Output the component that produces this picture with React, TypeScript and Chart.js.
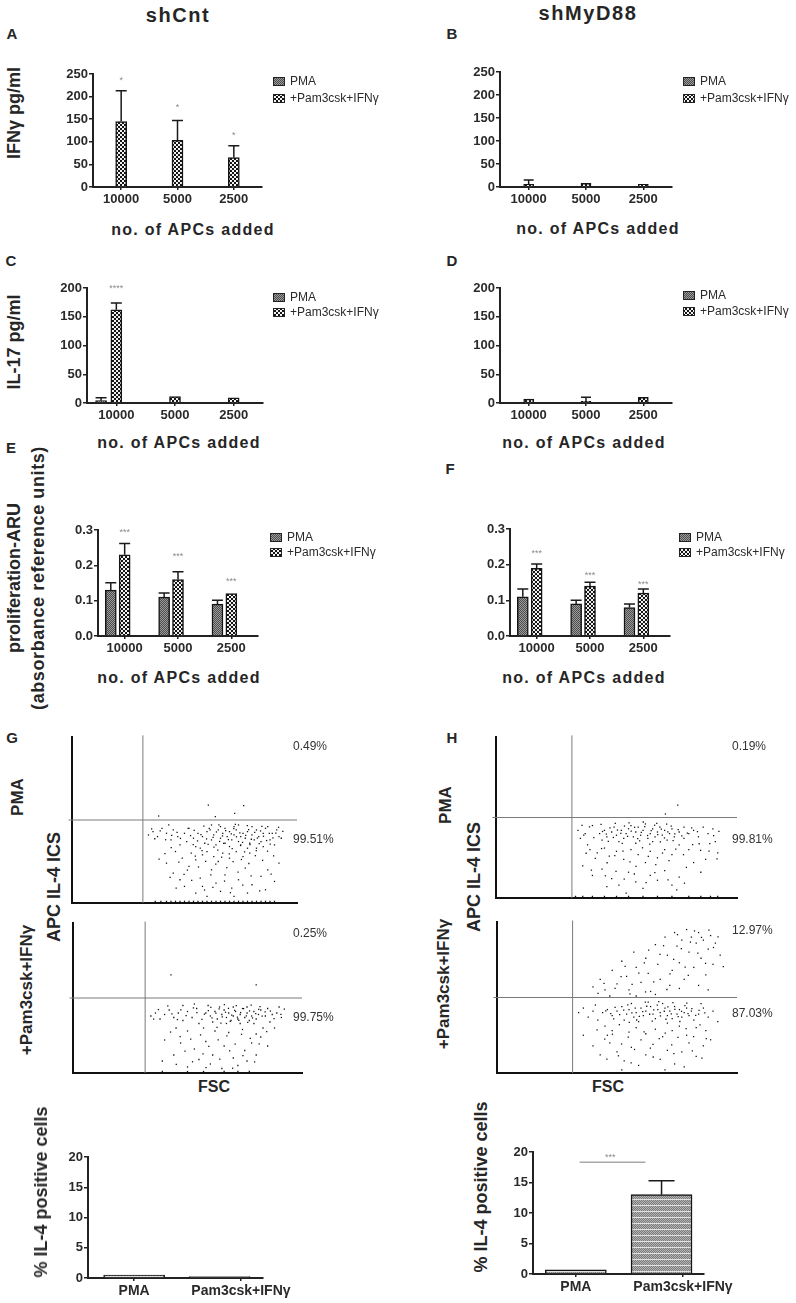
import React, { useEffect, useRef } from "react";
import { Chart, registerables } from "chart.js";
Chart.register(...registerables);

const FONT = "'Liberation Sans', Arial, Helvetica, sans-serif";
Chart.defaults.font.family = FONT;
Chart.defaults.color = "#2a2a2a";

// ---------------- DATA ----------------
const apcCategories = ["10000", "5000", "2500"];
const il4Categories = ["PMA", "Pam3csk+IFNγ"];
const seriesNames = ["PMA", "+Pam3csk+IFNγ"];

// A  IFNγ shCnt
const ifngShCntPMA = [0, 0, 0];
const ifngShCntPam = [145, 103, 65];
const ifngShCntPamErr = [213, 147, 91];
const ifngShCntStars = [241, 181, 119];
// B  IFNγ shMyD88
const ifngShMyD88PMA = [0, 0, 0];
const ifngShMyD88Pam = [6, 8, 6];
const ifngShMyD88PamErr = [15, 10, 8];
// C  IL-17 shCnt
const il17ShCntPMA = [4, 0, 0];
const il17ShCntPMAErr = [9, 0, 0];
const il17ShCntPam = [162, 11, 9];
const il17ShCntPamErr = [174, 11, 9];
const il17ShCntStars = [203];
// D  IL-17 shMyD88
const il17ShMyD88PMA = [0, 0, 0];
const il17ShMyD88Pam = [7, 3, 10];
const il17ShMyD88PamErr = [8, 10, 10];
// E  proliferation shCnt
const prolShCntPMA = [0.13, 0.11, 0.09];
const prolShCntPMAErr = [0.151, 0.122, 0.101];
const prolShCntPam = [0.23, 0.16, 0.12];
const prolShCntPamErr = [0.262, 0.182, 0.122];
const prolShCntStars = [0.298, 0.232, 0.161];
// F  proliferation shMyD88
const prolShMyD88PMA = [0.11, 0.09, 0.08];
const prolShMyD88PMAErr = [0.132, 0.1, 0.09];
const prolShMyD88Pam = [0.19, 0.14, 0.12];
const prolShMyD88PamErr = [0.202, 0.151, 0.132];
const prolShMyD88Stars = [0.238, 0.174, 0.149];
// G / H  % IL-4 positive cells
const il4ShCnt = [0.5, 0.25];
const il4ShCntErr = [0.55, 0.3];
const il4ShMyD88 = [0.7, 13];
const il4ShMyD88Err = [0.8, 15.3];
const il4ShMyD88Sig = [18.3];

// flow cytometry (FSC vs APC IL-4 ICS), axes 0-100
const gateFSC = 31.5;
const gateIL4 = 50;
const flowShCntPMA: [number, number][] = [
  [56,42],[58,40],[60,43],[62,38],[63,41],[65,44],[66,39],[67,42],[68,36],[69,40],[70,43],[71,38],[72,41],[73,44],[74,37],[75,40],[76,42],[77,39],[78,43],[79,36],[80,41],[81,38],[82,44],[83,40],[84,37],[85,42],[86,45],[64,35],[66,46],[70,34],[72,46],[75,35],[78,33],[68,45],[61,45],[59,36],[57,33],[62,47],[74,47],[80,46],
  [42,42],[44,38],[45,44],[47,40],[48,35],[50,42],[51,37],[52,45],[53,30],[54,39],[55,34],[46,31],[49,27],[55,26],[58,29],[60,31],[63,28],[65,25],[67,30],[70,27],[73,31],[76,28],[79,30],[82,33],[85,34],[88,38],[89,42],[91,44],[92,40],[87,46],[40,45],[38,40],[36,43],[34,41],[43,47],[93,39],[90,35],
  [45,18],[52,22],[57,15],[62,20],[64,12],[68,17],[71,9],[74,14],[77,21],[80,11],[84,16],[87,20],[92,24],[50,10],[55,6],[60,4],[66,7],[72,4],[78,6],[86,8],[90,13],[48,14],[42,24],[58,10],
  [37,1],[42,1],[46,1],[50,1],[54,1],[58,1],[62,1],[66,1],[70,1],[74,1],[78,1],[82,1],[86,1],[90,1],
  [60.6,59],[76.3,58.6],[72.3,54],[63.7,52],[38.5,52.4],
];
const flowShCntPMAExtra: [number, number][] = [
  [57.3,41.2],[59.8,38.6],[61.4,44.1],[62.7,39.5],[64.2,42.8],[65.6,37.1],[66.9,40.4],[68.3,43.6],[69.5,38.2],[70.8,41.7],[71.9,44.8],[73.1,39.9],[74.6,42.3],[75.8,36.5],[77.2,40.8],[78.5,44.2],[79.7,38.4],[81.2,42.6],[82.4,39.1],[83.8,43.4],[85.1,40.2],[86.5,37.6],[87.7,41.9],[60.5,35.3],[63.1,33.7],[67.4,35.9],[71.2,32.8],[74.9,34.6],[79.1,35.2],[83.2,35.8],[58.6,46.3],[65.3,47.1],[72.6,47.4],[77.9,46.6],[84.4,46.1],[52.7,40.6],[54.3,43.8],[55.8,37.4],[53.9,35.1],[51.6,44.9],[48.2,38.9],[46.7,42.6],[44.3,40.8],[41.6,38.1],[39.2,43.5],[36.8,38.7],[35.4,44.6],[89.3,39.2],[90.6,42.1],[91.8,45.6],[88.1,35.4],[93.7,43.2],
  [47.5,24.6],[51.3,19.8],[54.8,28.3],[56.2,21.7],[59.4,25.1],[61.7,16.9],[63.9,23.4],[66.5,27.6],[68.8,21.3],[71.6,24.9],[73.8,18.6],[75.3,26.2],[78.6,23.8],[81.5,28.5],[84.7,25.7],[86.9,31.2],[89.6,28.4],[44.1,33.4],[41.3,29.8],[38.7,26.4],[57.8,31.6],[64.8,31.9],[69.9,29.6],[76.7,30.8],[81.9,31.5],[53.2,13.6],[58.9,7.8],[62.6,9.4],[67.8,13.2],[70.4,6.2],[75.9,10.7],[79.6,16.3],[83.4,7.3],[88.5,17.4],[46.3,8.9],[49.8,17.2],[43.6,15.4],
  [39.5,1],[44,1],[48,1],[52,1],[56,1],[60,1],[64,1],[68,1],[72,1],[76,1],[80,1],[84,1],[88,1],
];
const flowShCntPam: [number, number][] = [
  [58,40],[60,38],[62,41],[63,36],[65,39],[66,42],[67,37],[68,40],[69,35],[70,38],[71,41],[72,36],[73,39],[74,43],[75,37],[76,40],[77,35],[78,38],[79,41],[80,36],[81,39],[82,42],[64,44],[70,44],[76,44],[61,34],[67,33],[73,33],[79,33],[84,38],
  [34,38],[36,40],[38,36],[40,39],[42,42],[44,37],[46,40],[48,35],[50,41],[52,37],[54,43],[55,33],[57,30],[59,45],[85,43],[87,39],[89,40],[91,37],[86,34],[83,30],[45,30],[50,28],[62,28],[68,27],[74,29],[80,26],[88,30],[53,46],[48,45],[90,44],
  [40,22],[47,20],[53,16],[58,21],[61,12],[66,18],[70,10],[75,15],[78,20],[82,24],[85,18],[60,6],[65,3],[55,9],[72,5],[44,12],[50,4],[39,8],[76,8],[80,12],
  [39,1],[50,1],[57,1],[66,1],[72,1],[77,1],
  [42.8,65.4],[80,58.8],
];
const flowShCntPamExtra: [number, number][] = [
  [57.4,39.2],[59.1,41.6],[60.7,36.8],[62.4,39.9],[63.8,42.7],[65.2,37.4],[66.6,40.5],[67.9,43.1],[69.3,38.6],[70.6,41.8],[71.8,37.2],[73.2,40.3],[74.5,42.9],[75.7,38.1],[77.1,41.4],[78.4,36.7],[79.8,39.6],[81.1,42.4],[82.6,37.9],[83.9,40.8],[68.7,34.4],[72.4,35.1],[76.3,33.8],[64.6,33.2],[60.2,43.8],[66.1,45.6],[71.3,44.9],[77.8,45.2],[81.7,44.3],[86.2,41.3],[87.8,36.2],[62.9,30.4],[56.3,35.8],[54.1,40.2],[52.6,43.4],[49.4,38.3],[47.1,42.1],[45.6,35.6],[43.2,39.4],[41.4,44.7],[37.3,42.3],[35.2,35.9],[90.8,39.1],[92.3,42.6],
  [42.6,27.3],[46.8,24.2],[51.4,22.6],[55.7,25.4],[59.3,17.8],[63.4,22.1],[67.2,24.7],[70.8,19.3],[73.6,25.8],[77.4,23.1],[81.3,19.4],[84.6,27.6],[48.9,14.6],[56.8,12.7],[64.1,9.3],[68.4,14.8],[74.2,11.6],[79.3,7.4],[58.1,3.6],[69.7,3.2],[52.2,7.5],[45.1,5.8],
];
const flowShMyD88PMA: [number, number][] = [
  [43,40],[45,42],[46,38],[48,41],[49,44],[50,39],[52,42],[53,37],[54,40],[55,43],[57,38],[58,41],[59,44],[60,39],[61,42],[63,37],[64,40],[65,43],[66,38],[67,41],[68,44],[69,39],[70,42],[71,36],[72,40],[73,43],[74,38],[56,45],[62,46],[51,35],[58,34],[65,35],[44,36],[76,41],[78,44],
  [34,42],[35,37],[37,40],[38,33],[40,45],[39,30],[42,28],[45,31],[47,26],[50,29],[53,24],[56,30],[59,27],[62,22],[64,29],[67,25],[70,30],[73,27],[76,33],[78,37],[80,40],[82,42],[84,38],[86,44],[88,40],[90,43],[91,35],[80,30],[87,24],[92,28],
  [36,20],[40,14],[44,18],[48,12],[51,8],[55,16],[58,10],[61,6],[64,14],[67,11],[70,17],[73,8],[76,13],[79,19],[82,22],[85,16],[75,5],[54,3],[46,7],
  [33,1],[36,1],[40,1],[45,1],[50,1],[55,1],[61,1],[67,1],[73,1],[80,1],[85,1],[89,1],[92,1],
  [75.4,57.7],[70.3,52.2],
];
const flowShMyD88PMAExtra: [number, number][] = [
  [44.2,41.3],[45.8,39.7],[47.3,43.5],[48.7,37.6],[50.4,42.2],[51.8,40.1],[53.3,44.7],[54.6,38.3],[56.1,41.6],[57.5,43.9],[58.8,36.9],[60.3,40.7],[61.7,44.3],[62.9,38.8],[64.4,41.9],[65.8,45.2],[67.1,39.4],[68.6,42.8],[69.9,37.3],[71.3,41.1],[72.7,44.6],[74.2,39.8],[75.6,42.4],[77.1,38.6],[43.6,45.8],[49.5,46.3],[55.2,46.7],[61.1,47.2],[66.7,46.4],[70.8,45.9],[46.6,35.2],[52.4,33.9],[59.6,35.5],[63.8,33.4],[68.2,34.8],[73.5,35.7],[79.4,40.3],[81.2,43.6],[83.6,41.2],[36.4,39.1],[38.8,44.2],[40.6,37.5],[35.7,45.1],
  [37.4,27.8],[41.2,24.6],[43.8,30.7],[46.1,21.9],[49.3,26.3],[52.7,29.1],[55.6,22.4],[58.1,19.6],[60.8,31.2],[63.2,25.8],[66.3,20.7],[69.1,27.9],[71.8,23.2],[74.6,30.4],[77.8,26.9],[81.6,33.1],[84.9,29.6],[88.7,33.8],[90.3,38.7],[92.5,41.4],[39.6,17.3],[45.4,13.8],[49.8,16.6],[53.2,11.7],[57.4,14.9],[62.3,9.6],[65.9,15.8],[71.4,11.3],[78.2,9.2],[88.4,29.1],[91.7,24.3],[84.3,33.7],
];
const flowShMyD88Pam: [number, number][] = [
  [44,40],[46,42],[48,38],[50,41],[52,44],[54,39],[55,42],[57,37],[58,40],[60,43],[61,38],[62,41],[64,44],[65,39],[66,36],[67,42],[68,40],[70,43],[71,38],[72,41],[73,36],[74,44],[75,39],[76,42],[77,37],[78,40],[79,43],[80,38],[81,41],[82,35],[56,46],[63,47],[69,46],[59,34],[71,33],[53,35],
  [34,40],[36,43],[38,37],[40,41],[42,35],[41,45],[45,31],[48,28],[51,32],[55,27],[58,30],[62,26],[66,29],[69,24],[73,28],[76,31],[79,25],[83,30],[84,39],[86,43],[88,37],[90,41],[92,34],[87,28],[85,46],[46,25],
  [36,25],[40,18],[43,12],[47,20],[50,14],[53,8],[56,17],[59,5],[62,12],[65,19],[68,9],[71,15],[74,6],[77,14],[80,20],[83,11],[86,18],[89,22],[52,2],[70,2],[78,4],[60,22],
  [40,57],[43,62],[45,55],[48,68],[50,59],[52,74],[54,64],[55,55],[57,80],[58,70],[60,60],[62,76],[63,66],[64,54],[66,85],[67,72],[68,62],[70,90],[71,78],[72,58],[73,68],[74,93],[75,84],[76,73],[77,88],[78,62],[79,95],[80,80],[81,90],[82,70],[83,86],[84,93],[85,76],[86,88],[87,65],[88,82],[89,91],[90,72],[91,86],[93,78],[84,58],[76,56],[66,52],[58,51],[88,55],[47,51],
];
const flowShMyD88PamExtra: [number, number][] = [
  [45.3,41.2],[47.4,39.3],[49.2,43.4],[51.1,38.6],[52.8,41.7],[54.5,45.1],[56.2,39.8],[57.6,42.9],[59.3,37.5],[60.7,40.6],[62.4,44.2],[63.6,38.9],[65.3,41.8],[66.8,44.9],[68.1,37.8],[69.7,40.9],[71.2,43.8],[72.6,39.1],[74.1,42.2],[75.5,37.4],[76.9,40.8],[78.3,44.6],[79.6,39.3],[81.2,42.7],[82.8,38.2],[84.2,41.5],[86.6,39.8],[58.2,35.1],[64.7,34.3],[70.4,35.6],[76.2,34.1],[55.1,33.6],[48.6,35.9],[61.8,46.9],[67.4,47.3],[73.3,46.6],[79.1,46.2],
  [41.7,28.6],[44.9,22.4],[48.1,25.7],[51.9,19.2],[54.7,23.8],[57.3,15.6],[61.3,27.2],[63.9,16.4],[67.6,22.8],[70.1,26.4],[72.8,18.7],[75.4,23.6],[78.8,29.4],[81.9,24.1],[84.6,31.8],[87.2,22.7],[45.8,9.2],[50.6,11.4],[55.9,6.7],[65.1,10.6],[73.7,12.8],[81.4,14.6],[85.4,9.8],
  [42.1,52.8],[44.6,59.3],[49.2,56.1],[51.7,63.8],[53.4,70.6],[56.3,58.7],[59.1,66.2],[61.4,72.9],[63.2,81.4],[65.3,60.4],[67.9,78.6],[69.4,84.3],[72.1,65.7],[73.6,75.2],[75.2,91.6],[76.8,82.3],[78.4,70.1],[80.6,86.7],[82.3,94.1],[83.7,79.4],[85.2,89.8],[86.9,72.6],[88.3,94.6],[90.2,83.1],[92.1,90.2],[94.3,70.4],[79.7,64.6],[70.8,55.3],[61.9,53.7],[55.4,52.4],
];

// ---------------- HELPERS ----------------
type Area = { x0: number; x1: number; y0: number; y1: number };
type Margin = { l: number; r: number; t: number; b: number };

function makePattern(kind: string): CanvasPattern | string {
  const c = document.createElement("canvas");
  let w = 4, h = 4;
  if (kind === "light") { w = 3; h = 3; }
  if (kind === "grayLines") { w = 2; h = 6; }
  c.width = w; c.height = h;
  const g = c.getContext("2d");
  if (!g) return "#888";
  if (kind === "pma") {
    g.fillStyle = "#9a9a9a"; g.fillRect(0, 0, 4, 4);
    g.fillStyle = "#4e4e4e";
    [[0,0],[2,0],[1,1],[3,1],[0,2],[2,2],[1,3],[3,3]].forEach(([x, y]) => g.fillRect(x, y, 1, 1));
  } else if (kind === "pam") {
    g.fillStyle = "#141414"; g.fillRect(0, 0, 4, 4);
    g.fillStyle = "#f2f2f2"; g.fillRect(0, 0, 2, 2); g.fillRect(2, 2, 2, 2);
  } else if (kind === "light") {
    g.fillStyle = "#dadada"; g.fillRect(0, 0, 3, 3);
    g.fillStyle = "#6a6a6a"; g.fillRect(1, 1, 1, 1);
    g.fillStyle = "#a0a0a0"; g.fillRect(0, 0, 1, 1);
  } else if (kind === "grayLines") {
    for (let y = 0; y < 5; y++) for (let x = 0; x < 2; x++) {
      g.fillStyle = (x + y) % 2 ? "#b4b4b4" : "#7c7c7c"; g.fillRect(x, y, 1, 1);
    }
    g.fillStyle = "#e2e2e2"; g.fillRect(0, 5, 2, 1);
  }
  return g.createPattern(c, "repeat") || "#888";
}

function baseOptions(m: Margin) {
  return {
    responsive: false,
    animation: false,
    events: [],
    layout: { padding: { left: 0, right: m.r, top: m.t, bottom: 0 }, autoPadding: false },
    plugins: { legend: { display: false }, tooltip: { enabled: false } },
  };
}

type BarSeries = { label: string; x: number[]; y: number[]; err: number[] | null; fill: string; thickness: number; cap: number };

type BarParams = {
  m: Margin;
  series: BarSeries[];
  tickVals: number[];
  tickLabels: string[];
  xMin: number; xMax: number;
  yMax: number; yStep: number; yDecimals: number;
  tickFont: number; xTickFont: number;
  stars?: { x: number; y: number; t: string }[];
  lines?: { x0: number; x1: number; y: number }[];
  legend?: { x: number; y: number; dy: number };
};

function barConfig(p: BarParams, origin: { ox: number; oy: number }) {
  const fills = p.series.map((s) => (s.fill.startsWith("#") ? s.fill : makePattern(s.fill)));
  const extras = {
    id: "extras",
    afterDatasetsDraw(chart: any) {
      const ctx = chart.ctx;
      const xs = chart.scales.x, ys = chart.scales.y;
      p.series.forEach((s, di) => {
        if (!s.err) return;
        const meta = chart.getDatasetMeta(di);
        meta.data.forEach((el: any, i: number) => {
          const yTop = ys.getPixelForValue(s.err![i]);
          const yBar = ys.getPixelForValue(s.y[i]);
          if (yBar - yTop < 1) return;
          ctx.save();
          ctx.strokeStyle = "#1a1a1a";
          ctx.lineWidth = 1.5;
          ctx.beginPath();
          ctx.moveTo(el.x, yBar); ctx.lineTo(el.x, yTop);
          ctx.moveTo(el.x - s.cap / 2, yTop); ctx.lineTo(el.x + s.cap / 2, yTop);
          ctx.stroke();
          ctx.restore();
        });
      });
      (p.lines || []).forEach((ln) => {
        ctx.save();
        ctx.strokeStyle = "#a8a8a8"; ctx.lineWidth = 1.5;
        ctx.beginPath();
        const yy = ys.getPixelForValue(ln.y);
        ctx.moveTo(xs.getPixelForValue(ln.x0), yy); ctx.lineTo(xs.getPixelForValue(ln.x1), yy);
        ctx.stroke(); ctx.restore();
      });
      (p.stars || []).forEach((st) => {
        ctx.save();
        ctx.fillStyle = "#8a8a8a";
        ctx.font = `9px ${FONT}`;
        ctx.textAlign = "center"; ctx.textBaseline = "middle";
        ctx.fillText(st.t, xs.getPixelForValue(st.x), ys.getPixelForValue(st.y) + 2);
        ctx.restore();
      });
      if (p.legend) {
        const lg = p.legend;
        p.series.forEach((s, i) => {
          const bx = lg.x - origin.ox, by = lg.y - origin.oy + i * lg.dy;
          ctx.save();
          ctx.fillStyle = fills[i] as any;
          ctx.fillRect(bx, by, 12, 9);
          ctx.strokeStyle = "#222"; ctx.lineWidth = 1;
          ctx.strokeRect(bx + 0.5, by + 0.5, 11, 8);
          ctx.fillStyle = "#2a2a2a";
          ctx.font = `12px ${FONT}`;
          ctx.textAlign = "left"; ctx.textBaseline = "middle";
          ctx.fillText(s.label, bx + 17, by + 5);
          ctx.restore();
        });
      }
    },
  };
  const yTicks: number[] = [];
  for (let i = 0; i * p.yStep <= p.yMax + 1e-9; i++) yTicks.push(Math.round(i * p.yStep * 1000) / 1000);
  return {
    type: "bar",
    data: {
      datasets: p.series.map((s, i) => ({
        label: s.label,
        data: s.x.map((xv, j) => ({ x: xv, y: s.y[j] })),
        backgroundColor: fills[i],
        borderColor: "#151515",
        borderWidth: 1.5,
        barThickness: s.thickness,
        grouped: false,
      })),
    },
    options: {
      ...baseOptions(p.m),
      scales: {
        x: {
          type: "linear", min: p.xMin, max: p.xMax, offset: false,
          afterBuildTicks: (s: any) => { s.ticks = p.tickVals.map((v) => ({ value: v })); },
          afterFit: (s: any) => { s.height = p.m.b; },
          ticks: {
            autoSkip: false, maxRotation: 0, padding: 2, color: "#2a2a2a",
            font: { size: p.xTickFont, weight: "bold" },
            callback: (v: any) => { const i = p.tickVals.indexOf(v); return i >= 0 ? p.tickLabels[i] : ""; },
          },
          grid: { display: true, drawOnChartArea: false, drawTicks: true, tickLength: 3, color: "#222", lineWidth: 1.5, offset: false },
          border: { display: true, color: "#222", width: 2 },
        },
        y: {
          type: "linear", min: 0, max: p.yMax,
          afterBuildTicks: (s: any) => { s.ticks = yTicks.map((v) => ({ value: v })); },
          afterFit: (s: any) => { s.width = p.m.l; },
          ticks: {
            padding: 1, color: "#2a2a2a",
            font: { size: p.tickFont, weight: "bold" },
            callback: (v: any) => Number(v).toFixed(p.yDecimals),
          },
          grid: { display: true, drawOnChartArea: false, drawTicks: true, tickLength: 4, color: "#222", lineWidth: 1.5 },
          border: { display: true, color: "#222", width: 2 },
        },
      },
    },
    plugins: [extras],
  };
}

function scatterConfig(m: Margin, pts: [number, number][]) {
  return {
    type: "scatter",
    data: {
      datasets: [
        { data: pts.map(([x, y]) => ({ x, y })), pointRadius: 0.9, pointStyle: "rect", backgroundColor: "#111", borderWidth: 0 },
        { type: "line", data: [{ x: gateFSC, y: 0 }, { x: gateFSC, y: 101 }], borderColor: "#7a7a7a", borderWidth: 1, pointRadius: 0, clip: false },
        { type: "line", data: [{ x: -1.5, y: gateIL4 }, { x: 100, y: gateIL4 }], borderColor: "#7a7a7a", borderWidth: 1, pointRadius: 0, clip: false },
      ],
    },
    options: {
      ...baseOptions(m),
      scales: {
        x: {
          type: "linear", min: 0, max: 100,
          afterFit: (s: any) => { s.height = m.b; },
          ticks: { display: false }, grid: { display: false },
          border: { display: true, color: "#111", width: 2 },
        },
        y: {
          type: "linear", min: 0, max: 100,
          afterFit: (s: any) => { s.width = m.l; },
          ticks: { display: false }, grid: { display: false },
          border: { display: true, color: "#111", width: 2 },
        },
      },
    },
  };
}

function ChartBox({ area, m, make }: { area: Area; m: Margin; make: (o: { ox: number; oy: number }) => any }) {
  const ref = useRef<HTMLCanvasElement | null>(null);
  const left = area.x0 - m.l, top = area.y0 - m.t;
  const w = area.x1 - area.x0 + m.l + m.r, h = area.y1 - area.y0 + m.t + m.b;
  useEffect(() => {
    if (!ref.current) return;
    const chart = new Chart(ref.current, make({ ox: left, oy: top }));
    return () => chart.destroy();
  }, []);
  return <canvas ref={ref} width={w} height={h} style={{ position: "absolute", left, top, width: w, height: h }} />;
}

function T({ x, y, text, size = 16, bold = true, rot = false, ls = 0, left = false, color = "#262626" }:
  { x: number; y: number; text: string; size?: number; bold?: boolean; rot?: boolean; ls?: number; left?: boolean; color?: string }) {
  return (
    <div style={{
      position: "absolute", left: x, top: y, whiteSpace: "nowrap", lineHeight: 1,
      fontFamily: FONT, fontSize: size, fontWeight: bold ? 700 : 400, letterSpacing: ls, color,
      transform: `translate(${left ? "0" : "-50%"}, -50%)${rot ? " rotate(-90deg)" : ""}`,
    }}>{text}</div>
  );
}

const idx3 = [0, 1, 2];
const pmaX = idx3.map((i) => i - 0.26);
const pamX = idx3.slice();

function apcPanel(pma: number[], pmaErr: number[] | null, pam: number[], pamErr: number[] | null,
  yMax: number, yStep: number, yDec: number, m: Margin, stars: { x: number; y: number; t: string }[],
  legend: { x: number; y: number; dy: number }, thick: number): (o: { ox: number; oy: number }) => any {
  return (o) => barConfig({
    m,
    series: [
      { label: seriesNames[0], x: pmaX, y: pma, err: pmaErr, fill: "pma", thickness: thick, cap: thick },
      { label: seriesNames[1], x: pamX, y: pam, err: pamErr, fill: "pam", thickness: thick, cap: thick },
    ],
    tickVals: idx3, tickLabels: apcCategories, xMin: -0.5, xMax: 2.5,
    yMax, yStep, yDecimals: yDec, tickFont: 13, xTickFont: 13, stars, legend,
  }, o);
}

export default function App() {
  const mA = { l: 45, r: 138, t: 20, b: 25 };
  const mB = { l: 45, r: 120, t: 20, b: 25 };
  const mC = { l: 45, r: 137, t: 20, b: 25 };
  const mE = { l: 45, r: 142, t: 20, b: 25 };
  const mF = { l: 45, r: 122, t: 20, b: 25 };
  const mS = { l: 4, r: 3, t: 3, b: 4 };
  const mBar = { l: 40, r: 20, t: 12, b: 24 };

  const starsOf = (vals: number[], t: string) => vals.map((v, i) => ({ x: pamX[i], y: v, t }));

  return (
    <div style={{ position: "absolute", left: 0, top: 0, width: 796, height: 1303, background: "#fff", overflow: "hidden" }}>
      <T x={178} y={15} text="shCnt" size={20} ls={1.6} />
      <T x={588} y={13} text="shMyD88" size={20} ls={1.6} />
      {[["A", 12, 33], ["B", 452, 33], ["C", 11, 260], ["D", 452, 260], ["E", 11, 447], ["F", 450, 468], ["G", 12, 737], ["H", 452, 737]].map(([t, x, y]) => (
        <T key={t as string} x={x as number} y={y as number} text={t as string} size={15} />
      ))}

      {/* A */}
      <ChartBox area={{ x0: 93, x1: 262, y0: 74, y1: 187 }} m={mA}
        make={apcPanel(ifngShCntPMA, null, ifngShCntPam, ifngShCntPamErr, 250, 50, 0, mA, starsOf(ifngShCntStars, "*"), { x: 273, y: 77, dy: 17 }, 11)} />
      <T x={14} y={113} text="IFNγ pg/ml" size={18} rot />
      <T x={193} y={230} text="no. of APCs added" size={16} ls={1.3} />

      {/* B */}
      <ChartBox area={{ x0: 500, x1: 672, y0: 72, y1: 187 }} m={mB}
        make={apcPanel(ifngShMyD88PMA, null, ifngShMyD88Pam, ifngShMyD88PamErr, 250, 50, 0, mB, [], { x: 683, y: 77, dy: 17 }, 10)} />
      <T x={598} y={229} text="no. of APCs added" size={16} ls={1.3} />

      {/* C */}
      <ChartBox area={{ x0: 87, x1: 263, y0: 288, y1: 403 }} m={mC}
        make={apcPanel(il17ShCntPMA, il17ShCntPMAErr, il17ShCntPam, il17ShCntPamErr, 200, 50, 0, mC, starsOf(il17ShCntStars, "****"), { x: 273, y: 293, dy: 15 }, 11)} />
      <T x={14} y={342} text="IL-17 pg/ml" size={18} rot />
      <T x={179} y={443} text="no. of APCs added" size={16} ls={1.3} />

      {/* D */}
      <ChartBox area={{ x0: 500, x1: 672, y0: 288, y1: 403 }} m={mB}
        make={apcPanel(il17ShMyD88PMA, null, il17ShMyD88Pam, il17ShMyD88PamErr, 200, 50, 0, mB, [], { x: 683, y: 291, dy: 16 }, 10)} />
      <T x={584} y={443} text="no. of APCs added" size={16} ls={1.3} />

      {/* E */}
      <ChartBox area={{ x0: 98, x1: 258, y0: 530, y1: 636 }} m={mE}
        make={apcPanel(prolShCntPMA, prolShCntPMAErr, prolShCntPam, prolShCntPamErr, 0.3, 0.1, 1, mE, starsOf(prolShCntStars, "***"), { x: 270, y: 533, dy: 15 }, 11)} />
      <T x={14} y={578} text="proliferation-ARU" size={18} rot />
      <T x={38} y={578} text="(absorbance reference units)" size={18} rot ls={0.6} />
      <T x={179} y={678} text="no. of APCs added" size={16} ls={1.3} />

      {/* F */}
      <ChartBox area={{ x0: 510, x1: 670, y0: 529, y1: 636 }} m={mF}
        make={apcPanel(prolShMyD88PMA, prolShMyD88PMAErr, prolShMyD88Pam, prolShMyD88PamErr, 0.3, 0.1, 1, mF, starsOf(prolShMyD88Stars, "***"), { x: 679, y: 533, dy: 15 }, 11)} />
      <T x={584} y={678} text="no. of APCs added" size={16} ls={1.3} />

      {/* G flow */}
      <ChartBox area={{ x0: 72, x1: 297, y0: 737, y1: 903 }} m={mS} make={() => scatterConfig(mS, flowShCntPMA.concat(flowShCntPMAExtra))} />
      <ChartBox area={{ x0: 73, x1: 302, y0: 923, y1: 1073 }} m={mS} make={() => scatterConfig(mS, flowShCntPam.concat(flowShCntPamExtra))} />
      <T x={17} y={797} text="PMA" size={17} rot />
      <T x={54} y={887} text="APC IL-4 ICS" size={18} rot />
      <T x={26} y={990} text="+Pam3csk+IFNγ" size={17} rot />
      <T x={214} y={1087} text="FSC" size={16} />
      <T x={293} y={746} text="0.49%" size={12} bold={false} left color="#333" />
      <T x={293} y={839} text="99.51%" size={12} bold={false} left color="#333" />
      <T x={293} y={933} text="0.25%" size={12} bold={false} left color="#333" />
      <T x={293} y={1017} text="99.75%" size={12} bold={false} left color="#333" />

      {/* H flow */}
      <ChartBox area={{ x0: 496, x1: 737, y0: 737, y1: 898 }} m={mS} make={() => scatterConfig(mS, flowShMyD88PMA.concat(flowShMyD88PMAExtra))} />
      <ChartBox area={{ x0: 497, x1: 737, y0: 922, y1: 1073 }} m={mS} make={() => scatterConfig(mS, flowShMyD88Pam.concat(flowShMyD88PamExtra))} />
      <T x={445} y={805} text="PMA" size={17} rot />
      <T x={474} y={877} text="APC IL-4 ICS" size={18} rot />
      <T x={443} y={984} text="+Pam3csk+IFNγ" size={17} rot />
      <T x={608} y={1087} text="FSC" size={16} />
      <T x={732} y={746} text="0.19%" size={12} bold={false} left color="#333" />
      <T x={732} y={839} text="99.81%" size={12} bold={false} left color="#333" />
      <T x={732} y={930} text="12.97%" size={12} bold={false} left color="#333" />
      <T x={732} y={1013} text="87.03%" size={12} bold={false} left color="#333" />

      {/* G bar */}
      <ChartBox area={{ x0: 88, x1: 275, y0: 1157, y1: 1278 }} m={mBar}
        make={(o) => barConfig({
          m: mBar,
          series: [{ label: "% IL-4", x: [0, 1], y: il4ShCnt, err: il4ShCntErr, fill: "light", thickness: 61, cap: 26 }],
          tickVals: [0, 1.25], tickLabels: il4Categories, xMin: -0.54, xMax: 1.5,
          yMax: 20, yStep: 5, yDecimals: 0, tickFont: 13, xTickFont: 14,
        }, o)} />
      <T x={41} y={1192} text="% IL-4 positive cells" size={18} rot />

      {/* H bar */}
      <ChartBox area={{ x0: 533, x1: 717, y0: 1152, y1: 1274 }} m={mBar}
        make={(o) => barConfig({
          m: mBar,
          series: [{ label: "% IL-4", x: [0, 1], y: il4ShMyD88, err: il4ShMyD88Err, fill: "grayLines", thickness: 61, cap: 26 }],
          tickVals: [0, 1.25], tickLabels: il4Categories, xMin: -0.5, xMax: 1.49,
          yMax: 20, yStep: 5, yDecimals: 0, tickFont: 13, xTickFont: 14,
          lines: [{ x0: 0.044, x1: 0.812, y: il4ShMyD88Sig[0] }],
          stars: [{ x: 0.4, y: 19.4, t: "***" }],
        }, o)} />
      <T x={481} y={1187} text="% IL-4 positive cells" size={18} rot />
    </div>
  );
}
